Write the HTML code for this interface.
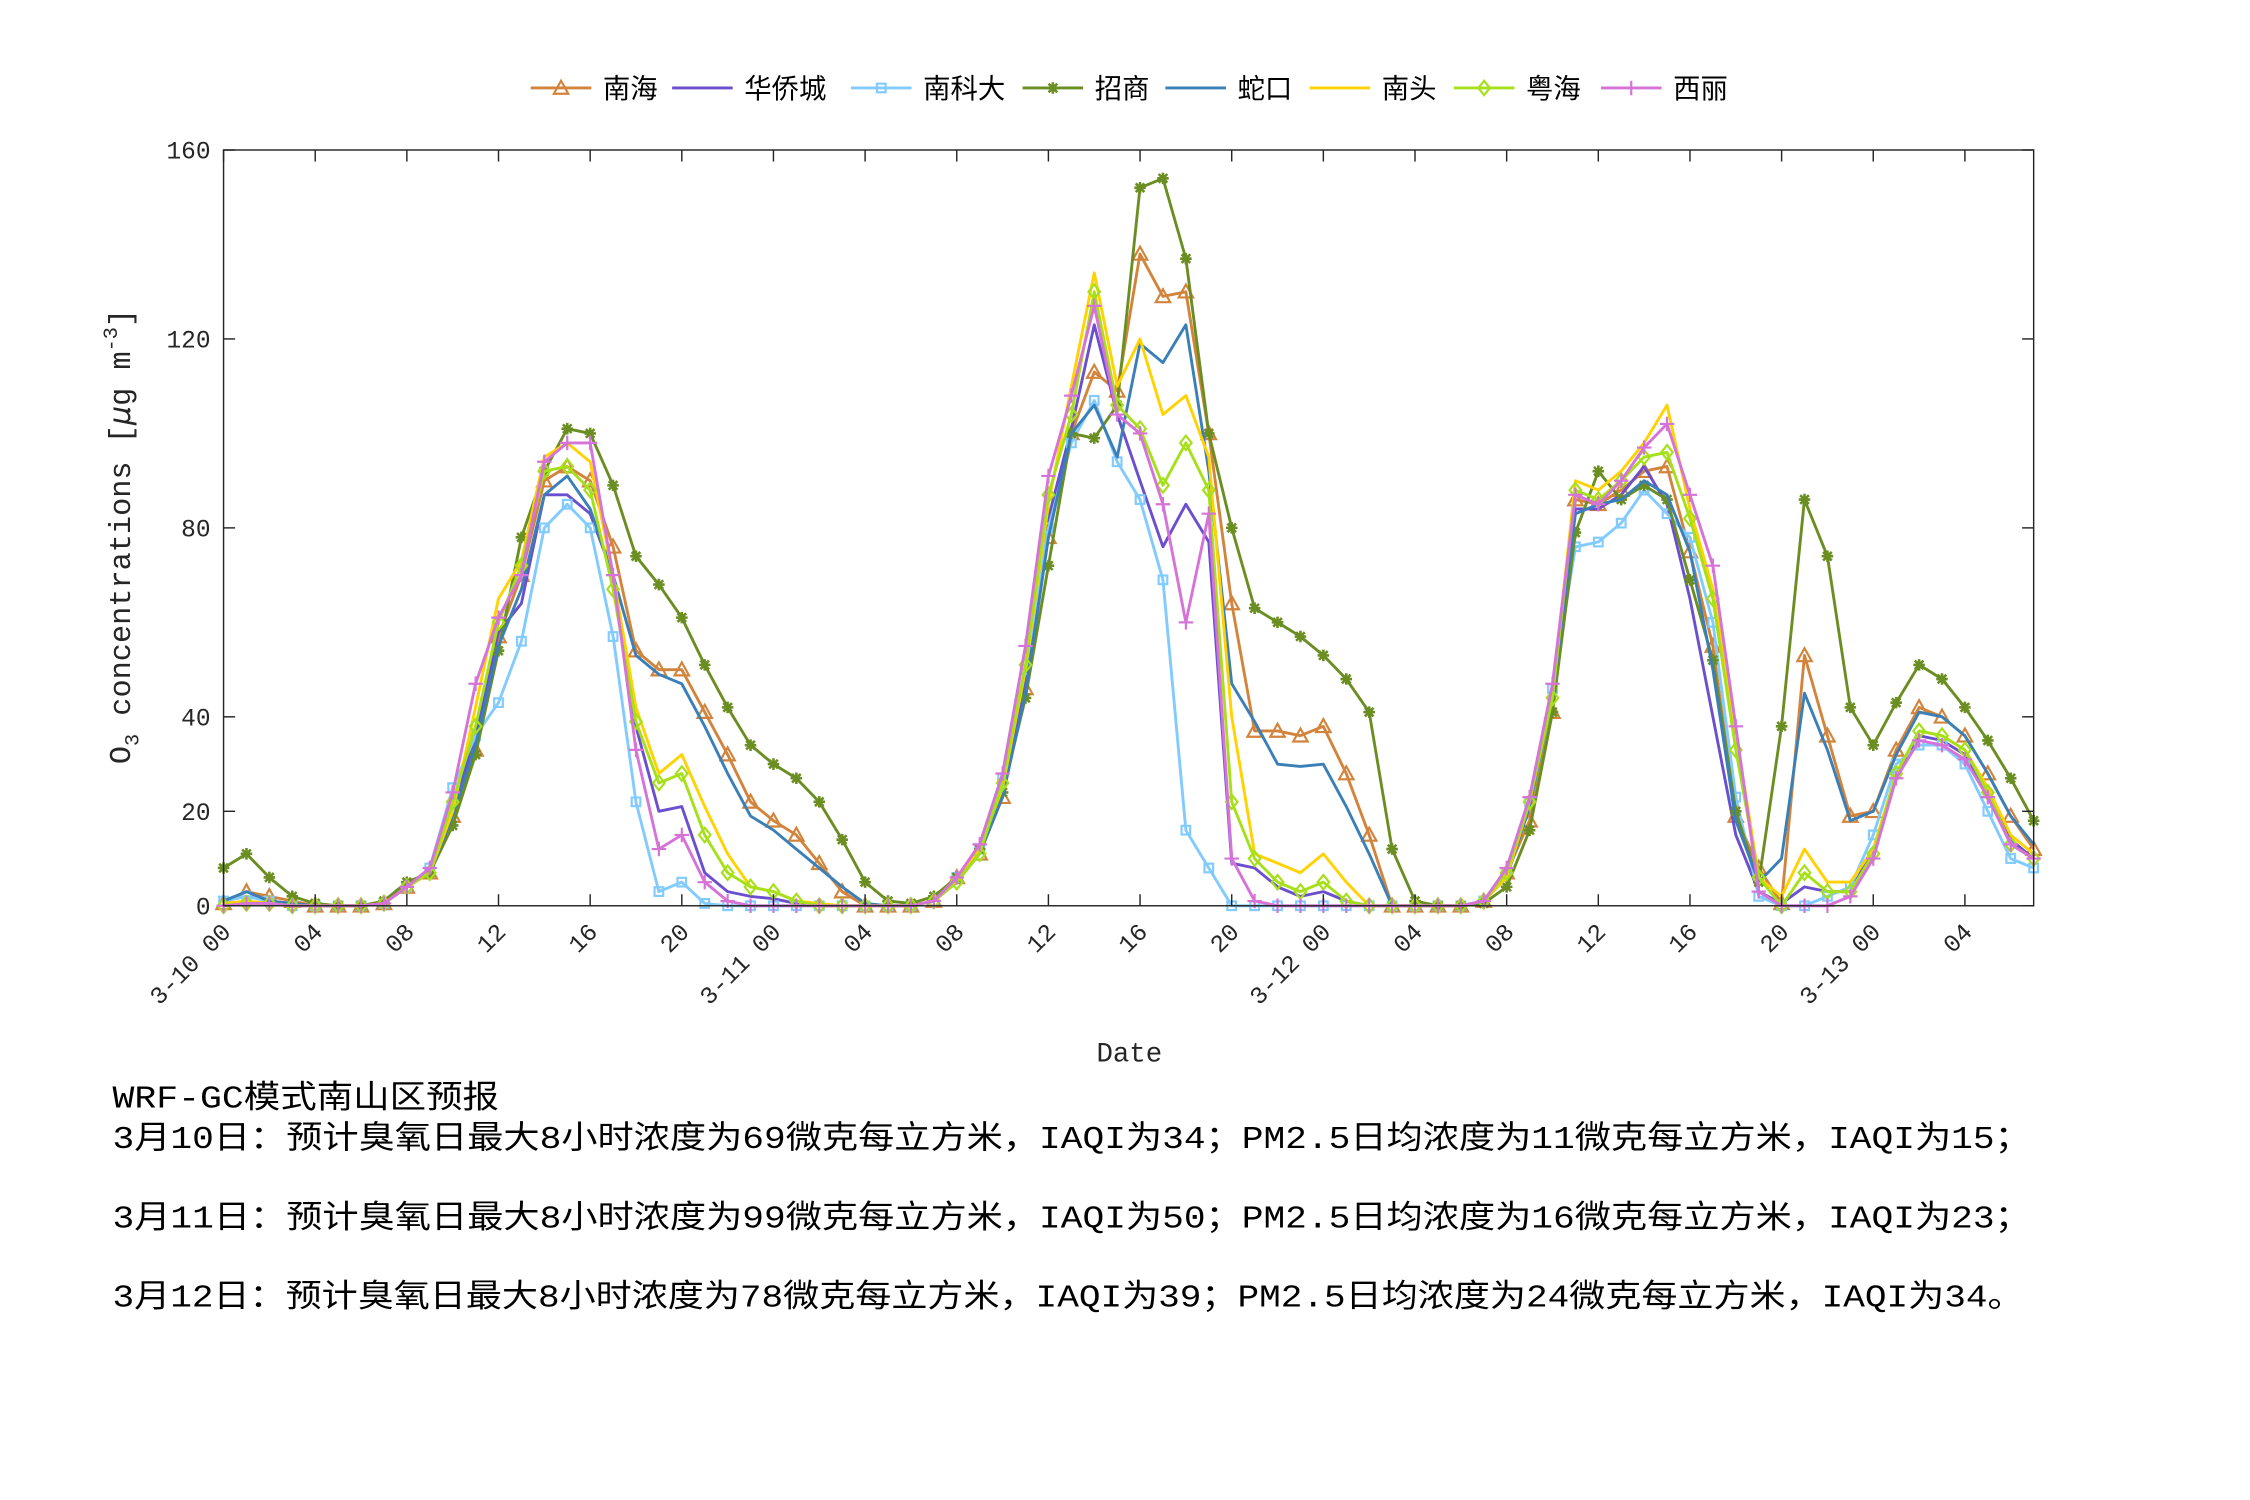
<!DOCTYPE html>
<html><head><meta charset="utf-8"><style>
html,body{margin:0;padding:0;background:#fff;}
svg{display:block;}
</style></head><body>
<svg id="s" xmlns="http://www.w3.org/2000/svg" width="2250" height="1500" viewBox="0 0 1560 1040" preserveAspectRatio="none">
<rect width="1560" height="1040" fill="#fff"/>
<g id="plot"></g>
<rect x="155" y="104" width="1255" height="524" fill="none" stroke="#262626" stroke-width="1"/>
<g id="ticks" stroke="#262626" stroke-width="1"></g>
<g id="labels" font-family="Liberation Mono, monospace" font-size="17" fill="#262626"></g>
<text x="783" y="736" font-family="Liberation Mono, monospace" font-size="19" fill="#262626" text-anchor="middle">Date</text>
<text transform="translate(90,372) rotate(-90)" font-family="Liberation Mono, monospace" font-size="21" fill="#262626" text-anchor="middle">O<tspan font-size="14" dy="6">3</tspan><tspan dy="-6"> concentrations [</tspan><tspan font-family="DejaVu Sans, sans-serif" font-style="italic">μ</tspan><tspan>g m</tspan><tspan font-size="14" dy="-9">-3</tspan><tspan dy="9">]</tspan></text>
<g id="legend" font-family="Liberation Sans, Noto Sans CJK SC, sans-serif" font-size="19" fill="#000"></g>
<g font-family="Liberation Mono, Noto Sans CJK SC, monospace" font-size="22" fill="#000">
<text x="78" y="768" textLength="268" lengthAdjust="spacingAndGlyphs">WRF-GC模式南山区预报</text>
<text x="78" y="796" textLength="1330" lengthAdjust="spacingAndGlyphs">3月10日：预计臭氧日最大8小时浓度为69微克每立方米，IAQI为34；PM2.5日均浓度为11微克每立方米，IAQI为15；</text>
<text x="78" y="851" textLength="1330" lengthAdjust="spacingAndGlyphs">3月11日：预计臭氧日最大8小时浓度为99微克每立方米，IAQI为50；PM2.5日均浓度为16微克每立方米，IAQI为23；</text>
<text x="78" y="906" textLength="1325" lengthAdjust="spacingAndGlyphs">3月12日：预计臭氧日最大8小时浓度为78微克每立方米，IAQI为39；PM2.5日均浓度为24微克每立方米，IAQI为34。</text>
</g>
</svg>
<script>
var NS="http://www.w3.org/2000/svg";
function el(t,a,p){var e=document.createElementNS(NS,t);for(var k in a)e.setAttribute(k,a[k]);p.appendChild(e);return e;}
function X(i){return 155+i*15.886;}
function Y(v){return 628-v*3.275;}
var S=[
{n:"南海",c:"#d2843c",m:"tri",d:[0.5,3,2,1,0,0,0,0.5,4,7,19,33,57,70,90,93,90,76,54,50,50,41,32,22,18,15,9,3,0,0,0,1,6,11,23,46,78,100,113,109,138,129,130,100,64,37,37,36,38,28,15,0,0,0,0,1,7,18,41,86,85,88,92,93,75,55,19,8,0.5,53,36,19,20,33,42,40,36,28,19,12]},
{n:"华侨城",c:"#6a4fcf",m:"",d:[1,2,1,0.5,0,0,0,0.5,4,7,20,36,58,64,87,87,83,70,38,20,21,7,3,2,1.5,0.5,0,0,0,0,0,1,6,12,25,47,82,101,123,104,90,76,85,77,9,8,4,2,3,1,0,0,0,0,0,1,6,21,46,84,84,87,93,85,65,40,15,3,0.5,4,3,3,12,27,36,35,32,24,14,10]},
{n:"南科大",c:"#82cbff",m:"sq",d:[1,2,1,0,0,0,0,0.5,4,8,25,36,43,56,80,85,80,57,22,3,5,0.5,0,0,0,0,0,0,0,0,0,1,6,12,27,50,80,98,107,94,86,69,16,8,0,0,0,0,0,0,0,0,0,0,0,1,7,22,46,76,77,81,88,83,78,60,23,2,0,0,2,4,15,30,34,34,30,20,10,8]},
{n:"招商",c:"#6b8e23",m:"star",d:[8,11,6,2,0.5,0,0,1,5,7,17,32,54,78,92,101,100,89,74,68,61,51,42,34,30,27,22,14,5,1,0.5,2,6,12,24,44,72,100,99,106,152,154,137,100,80,63,60,57,53,48,41,12,1,0,0,0.5,4,16,41,79,92,86,89,86,69,52,20,5,38,86,74,42,34,43,51,48,42,35,27,18]},
{n:"蛇口",c:"#3b7fb8",m:"",d:[1,3,1,0.5,0,0,0,0.5,4,7,19,34,55,67,87,91,84,70,53,49,47,38,28,19,16,12,8,4,0.5,0,0,1,5,11,23,45,78,100,106,95,119,115,123,92,47,39,30,29.5,30,21,11,0,0,0,0,1,6,21,44,83,85,86,90,87,75,50,18,5,10,45,33,18,20,32,41,40,36,28,19,13]},
{n:"南头",c:"#ffd200",m:"",d:[0.5,1,0.5,0,0,0,0,0.5,4,7,20,42,65,73,95,98,94,70,42,28,32,21,11,4,3,1,0.5,0,0,0,0,1,6,12,25,50,85,110,134,110,120,104,108,95,40,11,9,7,11,5,0,0,0,0,0,1,6,22,45,90,88,92,98,106,84,67,37,6,2,12,5,5,12,28,37,36,33,25,15,11]},
{n:"粤海",c:"#a6e01a",m:"dia",d:[0,0.5,0.5,0,0,0,0,0.5,4,7,22,38,60,72,92,93,88,67,39,26,28,15,7,4,3,1,0,0,0,0,0,1,5,11,26,51,87,104,130,106,101,89,98,88,22,10,5,3,5,1,0,0,0,0,0,1,7,22,44,88,86,90,95,96,82,65,33,6,0,7,3,3,11,28,37,36,33,24,13,10]},
{n:"西丽",c:"#d673d8",m:"plus",d:[0,0.5,0.5,0,0,0,0,0.5,4,8,24,47,61,70,94,98,98,70,33,12,15,5,1,0,0,0,0,0,0,0,0,1,6,13,28,55,91,108,127,104,100,85,60,83,10,1,0,0,0,0,0,0,0,0,0,1,8,23,47,87,85,90,97,102,87,72,38,3,0,0,0,2,10,27,35,34,31,23,13,10]}
];
function marker(g,m,x,y,c){
 if(m=="tri")el("polygon",{points:(x)+","+(y-5)+" "+(x-5)+","+(y+4)+" "+(x+5)+","+(y+4),fill:"none",stroke:c,"stroke-width":1.5},g);
 else if(m=="sq")el("rect",{x:x-3,y:y-3,width:6,height:6,fill:"none",stroke:c,"stroke-width":1.5},g);
 else if(m=="dia")el("polygon",{points:x+","+(y-5)+" "+(x+4)+","+y+" "+x+","+(y+5)+" "+(x-4)+","+y,fill:"none",stroke:c,"stroke-width":1.5},g);
 else if(m=="plus")el("path",{d:"M"+(x-5)+" "+y+"H"+(x+5)+"M"+x+" "+(y-5)+"V"+(y+5),stroke:c,"stroke-width":1.5},g);
 else if(m=="star")el("path",{d:"M"+(x-4)+" "+y+"H"+(x+4)+"M"+x+" "+(y-4)+"V"+(y+4)+"M"+(x-3)+" "+(y-3)+"L"+(x+3)+" "+(y+3)+"M"+(x-3)+" "+(y+3)+"L"+(x+3)+" "+(y-3),stroke:c,"stroke-width":1.8},g);
}
var P=document.getElementById("plot");
S.forEach(function(s){
 var pts=s.d.map(function(v,i){return X(i).toFixed(1)+","+Y(v).toFixed(1);}).join(" ");
 el("polyline",{points:pts,fill:"none",stroke:s.c,"stroke-width":2,"stroke-linejoin":"round"},P);
 if(s.m)s.d.forEach(function(v,i){marker(P,s.m,X(i),Y(v),s.c);});
});
var T=document.getElementById("ticks"),L=document.getElementById("labels");
[0,20,40,80,120,160].forEach(function(v){var y=Y(v);
 el("line",{x1:155,y1:y,x2:163,y2:y},T);el("line",{x1:1410,y1:y,x2:1402,y2:y},T);
 var t=el("text",{x:146,y:y+6,"text-anchor":"end"},L);t.textContent=v;});
var lab={0:"3-10 00",24:"3-11 00",48:"3-12 00",72:"3-13 00"};
for(var i=0;i<=76;i+=4){var x=X(i);
 el("line",{x1:x,y1:628,x2:x,y2:620},T);el("line",{x1:x,y1:104,x2:x,y2:112},T);
 var s=lab[i]||(("0"+(i%24)).slice(-2));
 var t=el("text",{transform:"translate("+(x+6)+",647) rotate(-45)","text-anchor":"end"},L);t.textContent=s;}
var G=document.getElementById("legend");
var lx=[418,516,640,759,858,958,1058,1160];
S.forEach(function(s,k){var tx=lx[k],x1=tx-50,x2=tx-8,y=61;
 el("line",{x1:x1,y1:y,x2:x2,y2:y,stroke:s.c,"stroke-width":2},G);
 if(s.m)marker(G,s.m,(x1+x2)/2,y,s.c);
 var t=el("text",{x:tx,y:y+7},G);t.textContent=s.n;});
</script>
</body></html>
